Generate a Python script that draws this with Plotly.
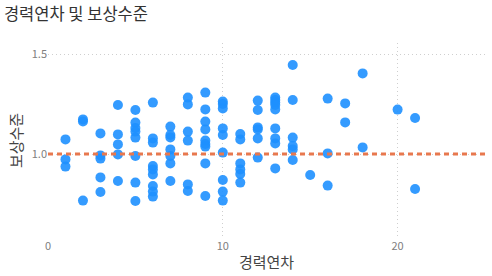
import plotly.graph_objects as go

# 경력연차 (years of experience) and 보상수준 (compensation level)
years = (
    [1, 1, 1]
    + [2, 2, 2]
    + [3, 3, 3, 3, 3]
    + [4, 4, 4, 4, 4]
    + [5, 5, 5, 5, 5, 5, 5, 5]
    + [6, 6, 6, 6, 6, 6, 6, 6, 6]
    + [7, 7, 7, 7, 7, 7, 7]
    + [8, 8, 8, 8, 8, 8]
    + [9, 9, 9, 9, 9, 9, 9, 9, 9]
    + [10, 10, 10, 10, 10, 10, 10, 10, 10]
    + [11, 11, 11, 11, 11, 11]
    + [12, 12, 12, 12, 12, 12]
    + [13, 13, 13, 13, 13, 13, 13, 13, 13]
    + [14, 14, 14, 14, 14, 14]
    + [15]
    + [16, 16, 16]
    + [17, 17]
    + [18, 18]
    + [20]
    + [21, 21]
)
comp = (
    [1.073, 0.973, 0.937]
    + [1.173, 1.163, 0.767]
    + [1.103, 0.993, 0.977, 0.883, 0.81]
    + [1.245, 1.098, 1.048, 0.998, 0.865]
    + [1.22, 1.157, 1.13, 1.112, 1.082, 0.99, 0.857, 0.765]
    + [1.257, 1.078, 1.057, 0.94, 0.923, 0.898, 0.84, 0.812, 0.787]
    + [1.137, 1.095, 1.083, 1.023, 0.99, 0.953, 0.865]
    + [1.282, 1.248, 1.112, 1.067, 0.848, 0.815]
    + [1.307, 1.223, 1.162, 1.123, 1.067, 1.05, 1.037, 0.953, 0.79]
    + [1.262, 1.25, 1.228, 1.128, 1.095, 1.007, 0.87, 0.812, 0.767]
    + [1.1, 1.073, 0.953, 0.923, 0.9, 0.857]
    + [1.267, 1.22, 1.133, 1.123, 1.078, 0.982]
    + [1.282, 1.27, 1.257, 1.245, 1.223, 1.128, 1.078, 1.053, 0.928]
    + [1.445, 1.27, 1.082, 1.04, 1.023, 0.97]
    + [0.895]
    + [1.277, 1.003, 0.842]
    + [1.253, 1.158]
    + [1.403, 1.033]
    + [1.222]
    + [1.18, 0.825]
)
ref_level = 1.0
x_ticks = [0, 10, 20]
y_ticks = [1.0, 1.5]

FONT = "Noto Sans CJK KR, Noto Sans, sans-serif"

fig = go.Figure()
fig.add_trace(go.Scatter(
    x=years, y=comp, mode="markers",
    marker=dict(size=10, color="rgba(30,144,255,0.9)", line=dict(width=0)),
    showlegend=False, hoverinfo="x+y",
))
fig.add_shape(
    type="line", xref="paper", yref="y", x0=0, x1=1, y0=ref_level, y1=ref_level,
    line=dict(color="#E8784E", width=3, dash="5px,4px"),
)
fig.update_layout(
    width=492, height=276,
    margin=dict(l=48, r=7, t=43, b=38),
    paper_bgcolor="white", plot_bgcolor="white",
    font=dict(family=FONT, color="#666"),
    title=dict(text="경력연차 및 보상수준", x=0.008, xref="container", xanchor="left",
               y=1 - 14 / 276, yref="container", yanchor="middle",
               font=dict(size=16.5, color="#333", family=FONT)),
    xaxis=dict(range=[0, 25], tickvals=x_ticks, showgrid=True, gridcolor="#cfcfcf",
               griddash="1px,3px", gridwidth=1, zeroline=False, showline=False,
               tickfont=dict(size=11, color="#808080"),
               title=dict(text="경력연차", font=dict(size=15, color="#444"), standoff=5)),
    yaxis=dict(range=[0.58, 1.555], tickvals=y_ticks, tickformat=".1f", showgrid=True,
               gridcolor="#cfcfcf", griddash="1px,3px", gridwidth=1, zeroline=False,
               showline=False, tickfont=dict(size=11, color="#808080"),
               title=dict(text="보상수준", font=dict(size=15, color="#444"), standoff=5)),
)
fig.write_html("out.html")
